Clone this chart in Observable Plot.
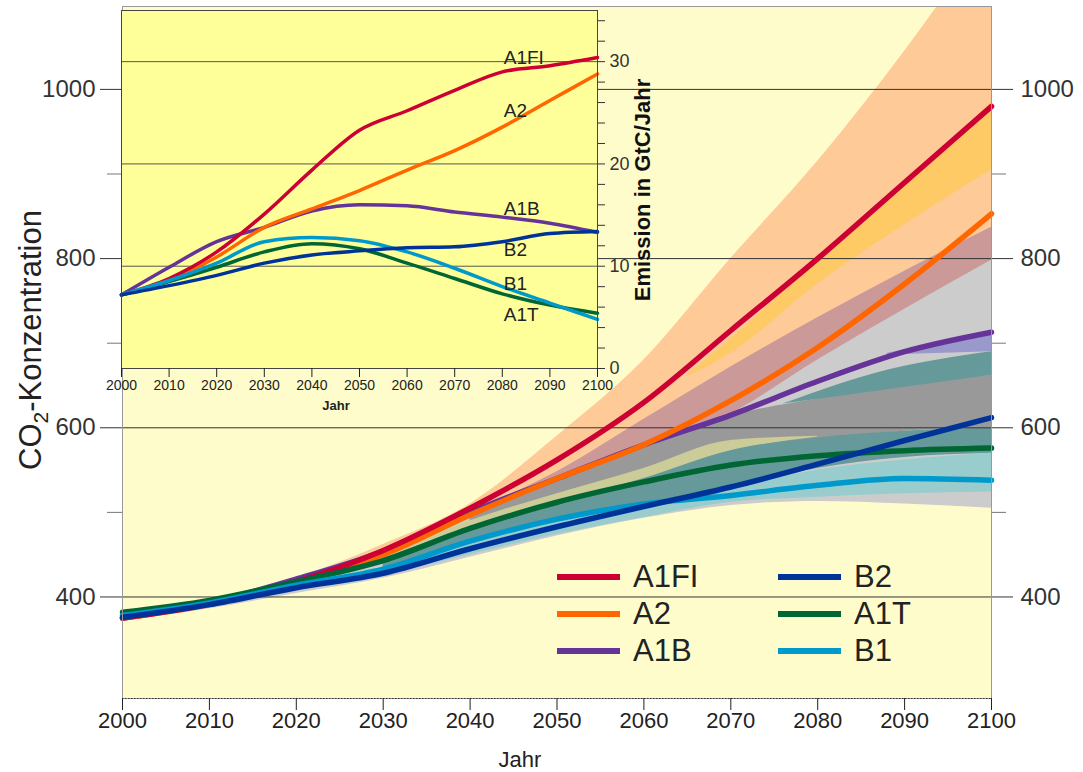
<!DOCTYPE html>
<html><head><meta charset="utf-8">
<script src="https://cdn.jsdelivr.net/npm/d3@7"></script>
<script src="https://cdn.jsdelivr.net/npm/@observablehq/plot@0.6"></script>
<style>
body{margin:0;background:#fff;font-family:"Liberation Sans",Arial,sans-serif;}
#wrap{position:relative;width:1083px;height:772px;overflow:hidden;}
#wrap > svg, #wrap > div{position:absolute;left:0;top:0;}
.lg{position:absolute;display:flex;align-items:center;height:40px;}
.lg span.sw{display:inline-block;width:63px;height:6px;margin-right:13px;}
.lg span.tx{font-size:31px;color:#222;line-height:40px;}
</style></head><body><div id="wrap"></div>
<script>
// ---------- data ----------
const years = [2000,2010,2020,2030,2040,2050,2060,2070,2080,2090,2100];
const seriesNames  = ["A1FI","A2","A1B","B2","A1T","B1"];
const seriesColors = ["#CC0033","#FF6600","#663399","#003399","#006633","#0099CC"];

// CO2 concentration (ppm)
const co2_A1FI = [375,392,418,455,505,562,630,715,800,890,980];
const co2_A2   = [375,391,417,450,497,540,580,632,695,770,853];
const co2_A1B  = [375,393,421,454,500,540,580,615,655,690,713];
const co2_B2   = [376,391,411,428,457,483,507,530,557,585,612];
const co2_A1T  = [382,396,418,443,481,512,536,556,567,573,576];
const co2_B1   = [378,393,414,433,466,492,510,520,532,540,538];

// CO2 emissions (GtC/yr) for the inset
const em_A1FI = [7.2,8.8,11.4,15.1,19.4,23.3,25.2,27.2,29.0,29.6,30.4];
const em_A2   = [7.2,8.6,10.9,13.8,15.6,17.4,19.4,21.3,23.6,26.2,28.8];
const em_A1B  = [7.2,9.9,12.4,13.8,15.4,16.0,15.9,15.3,14.8,14.2,13.3];
const em_B2   = [7.2,8.1,9.1,10.3,11.1,11.5,11.8,11.9,12.4,13.2,13.4];
const em_A1T  = [7.2,8.5,9.9,11.4,12.2,11.7,10.3,8.8,7.3,6.2,5.4];
const em_B1   = [7.2,8.6,10.3,12.4,12.8,12.5,11.4,9.8,8.0,6.4,4.8];

// inset labels
const insetLabels = ["A1FI","A2","A1B","B2","B1","A1T"];
const insetLabelValues = [30.4,25.2,15.6,11.6,8.3,5.2];
const insetLabelYear = 2080.3;

// uncertainty bands: [year, low, high]
const bandPeach = [[2000,372,377],[2010,388,394],[2020,410,422],[2030,440,462],[2040,470,510],[2050,500,590],[2060,530,680],[2070,560,800],[2080,590,915],[2090,620,1045],[2100,650,1190]];
const bandStrip = [[2065,660,662],[2070,688,705],[2080,770,797],[2090,840,888],[2100,905,985]];
const bandMaroon = [[2030,450,455],[2040,490,500],[2050,520,548],[2060,550,610],[2070,580,672],[2080,600,730],[2090,640,785],[2100,700,837]];
const bandLightGray = [[2000,371,378],[2010,386,396],[2020,404,424],[2030,422,457],[2040,447,502],[2050,472,542],[2060,493,580],[2070,508,617],[2080,513,680],[2090,510,740],[2100,505,798]];
const bandDarkGray = [[2040,470,499],[2050,495,540],[2060,525,578],[2070,560,614],[2080,585,634],[2090,596,650],[2100,600,662]];
const bandKhaki = [[2030,443,448],[2040,481,490],[2050,509,522],[2060,538,552],[2070,572,585],[2080,589,590]];
const bandTeal = [[2030,430,445],[2040,460,482],[2050,487,510],[2060,510,540],[2070,530,573],[2080,552,588],[2090,565,596],[2100,570,600]];
const bandTealWedge = [[2076,628,628],[2088,645,668],[2100,662,690]];
const bandLavender = [[2088,686,688],[2100,690,712]];
const bandLightTeal = [[2030,424,434],[2040,450,466],[2050,474,490],[2060,494,510],[2070,512,528],[2080,518,550],[2090,522,562],[2100,524,570]];

const bandLayers = [
  [bandPeach,"#FDCA98"],[bandStrip,"#FDCA66"],[bandMaroon,"#CC9999"],
  [bandLightGray,"#CCCCCC"],[bandDarkGray,"#999999"],[bandKhaki,"#CCCC99"],
  [bandTeal,"#669999"],[bandTealWedge,"#669999"],[bandLavender,"#9999CC"],
  [bandLightTeal,"#99CCCC"]
];

// ---------- build tables ----------
const co2Series = [co2_A1FI,co2_A2,co2_A1B,co2_B2,co2_A1T,co2_B1];
const emSeries  = [em_A1FI,em_A2,em_A1B,em_B2,em_A1T,em_B1];
const drawOrder = ["A1B","A2","A1FI","A1T","B1","B2"];
function long(series){
  const out=[];
  for(const name of drawOrder){
    const i = seriesNames.indexOf(name);
    years.forEach((y,j)=>out.push({name, year:y, value:series[i][j]}));
  }
  return out;
}
const co2Data = long(co2Series);
const emData = long(emSeries);
const font = '"Liberation Sans", Arial, sans-serif';
const color = {domain: seriesNames, range: seriesColors};

// ---------- main chart ----------
const main = Plot.plot({
  width:1083, height:772,
  marginLeft:122, marginRight:92, marginTop:6, marginBottom:74,
  x:{domain:[2000,2100]},
  y:{domain:[280,1098]},
  color,
  style:{background:"transparent", fontFamily:font},
  marks:[
    Plot.frame({fill:"#FFFCCC", stroke:null}),
    ...bandLayers.map(([b,f]) => Plot.areaY(b,{x:d=>d[0], y1:d=>d[1], y2:d=>d[2], fill:f, curve:"monotone-x", clip:true})),
    Plot.ruleY([400,600,800,1000],{stroke:"#333", strokeWidth:1}),
    Plot.line(co2Data,{x:"year", y:"value", z:"name", stroke:"name", strokeWidth:5.5, curve:"monotone-x"}),
    Plot.frame({stroke:"#999"}),
    Plot.ruleY([280],{stroke:"#333", strokeDasharray:"1.5,1.5"}),
    Plot.axisX({ticks:years, tickSize:12, tickPadding:2, fontSize:22, tickFormat:"d", label:null, color:"#222"}),
    Plot.axisY({anchor:"left", ticks:[400,600,800,1000], tickSize:22, tickPadding:5, fontSize:24, tickFormat:"d", label:null, color:"#333"}),
    Plot.axisY({anchor:"left", ticks:[500,700,900], tickSize:15, tickFormat:()=>"", label:null, color:"#777"}),
    Plot.axisY({anchor:"right", ticks:[400,600,800,1000], tickSize:21, tickPadding:8, fontSize:24, tickFormat:"d", label:null, color:"#333"}),
    Plot.axisY({anchor:"right", ticks:[500,700,900], tickSize:14, tickFormat:()=>"", label:null, color:"#777"})
  ]
});
const ms = d3.select(main);
const yl = ms.append("text").attr("transform","translate(41,340) rotate(-90)")
  .attr("text-anchor","middle").attr("font-size",31).attr("fill","#222").attr("font-family",font);
yl.append("tspan").text("CO");
yl.append("tspan").attr("font-size",21).attr("dy",7).text("2");
yl.append("tspan").attr("dy",-7).text("-Konzentration");
ms.append("text").attr("x",520).attr("y",767).attr("text-anchor","middle")
  .attr("font-size",22).attr("fill","#222").attr("font-family",font).text("Jahr");
document.getElementById("wrap").appendChild(main);

// ---------- inset ----------
const inset = Plot.plot({
  width:700, height:420,
  marginLeft:121, marginRight:103, marginTop:10, marginBottom:52,
  x:{domain:[2000,2100]},
  y:{domain:[0,35]},
  color,
  style:{background:"transparent", fontFamily:font},
  marks:[
    Plot.frame({fill:"#FFFF99", stroke:null}),
    Plot.ruleY([10,20,30],{stroke:"#555"}),
    Plot.line(emData,{x:"year", y:"value", z:"name", stroke:"name", strokeWidth:3.5, curve:"monotone-x"}),
    Plot.text(insetLabels,{x:()=>insetLabelYear, y:(d,i)=>insetLabelValues[i], text:d=>d, textAnchor:"start", fontSize:19, fill:"#222"}),
    Plot.frame({stroke:"#444"}),
    Plot.axisX({ticks:years, tickSize:9, tickPadding:3, fontSize:14, tickFormat:"d", label:null, color:"#222"}),
    Plot.axisY({anchor:"right", ticks:d3.range(0,35,2), tickSize:7, tickPadding:5, fontSize:18, tickFormat:d=>d%10===0?String(d):"", label:null, color:"#333"})
  ]
});
const is = d3.select(inset);
is.append("text").attr("x",336).attr("y",410).attr("text-anchor","middle")
  .attr("font-size",13).attr("font-weight","bold").attr("fill","#222").attr("font-family",font).text("Jahr");
is.append("text").attr("transform","translate(650,190) rotate(-90)").attr("text-anchor","middle")
  .attr("font-size",22).attr("font-weight","bold").attr("fill","#111").attr("font-family",font).text("Emission in GtC/Jahr");
document.getElementById("wrap").appendChild(inset);

// ---------- legend ----------
const legend = document.createElement("div");
const legendCols = [557, 778], legendRows = [577, 614, 651];
seriesNames.forEach((n,i)=>{
  const it = document.createElement("div");
  it.className="lg";
  it.style.left = legendCols[Math.floor(i/3)]+"px";
  it.style.top = (legendRows[i%3]-20)+"px";
  it.innerHTML = `<span class="sw" style="background:${seriesColors[i]}"></span><span class="tx">${n}</span>`;
  legend.appendChild(it);
});
document.getElementById("wrap").appendChild(legend);
</script></body></html>
